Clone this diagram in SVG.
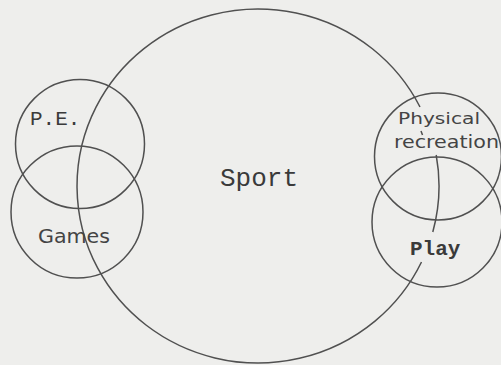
<svg xmlns="http://www.w3.org/2000/svg" width="501" height="365" viewBox="0 0 501 365">
<style>
.ln{fill:none;stroke:#505050;stroke-width:1.5}
.mono{font-family:"Liberation Mono","Courier New",monospace;fill:#3a3a3a}
.sans{font-family:"DejaVu Sans","Liberation Sans",sans-serif;fill:#444}
</style>
<rect width="501" height="365" fill="#eeeeec"/>
<g id="sport">
<path class="ln" d="M436.2,155 A181,177 0 0 1 432.8,232 M421.5,262 A181,177 0 1 1 420,107 M421,131 L422.5,135"/>
<text class="mono" x="220" y="186" font-size="26">Sport</text>
</g>
<g id="pe">
<circle class="ln" cx="80" cy="144" r="64.5"/>
<text class="mono" x="30" y="125" font-size="21">P.E.</text>
</g>
<g id="games">
<circle class="ln" cx="77" cy="212" r="66"/>
<text class="sans" x="38" y="243" font-size="20" textLength="72" lengthAdjust="spacingAndGlyphs">Games</text>
</g>
<g id="physical-recreation">
<circle class="ln" cx="438" cy="156.5" r="63.5"/>
<text class="sans" x="398" y="124" font-size="16" textLength="82" lengthAdjust="spacingAndGlyphs">Physical</text>
<text class="sans" x="394" y="148" font-size="17" textLength="105" lengthAdjust="spacingAndGlyphs">recreation</text>
</g>
<g id="play">
<circle class="ln" cx="437" cy="222" r="65"/>
<text class="mono" x="410" y="255" font-size="21" font-weight="bold">Play</text>
</g>
<g id="connectors"></g>
</svg>
